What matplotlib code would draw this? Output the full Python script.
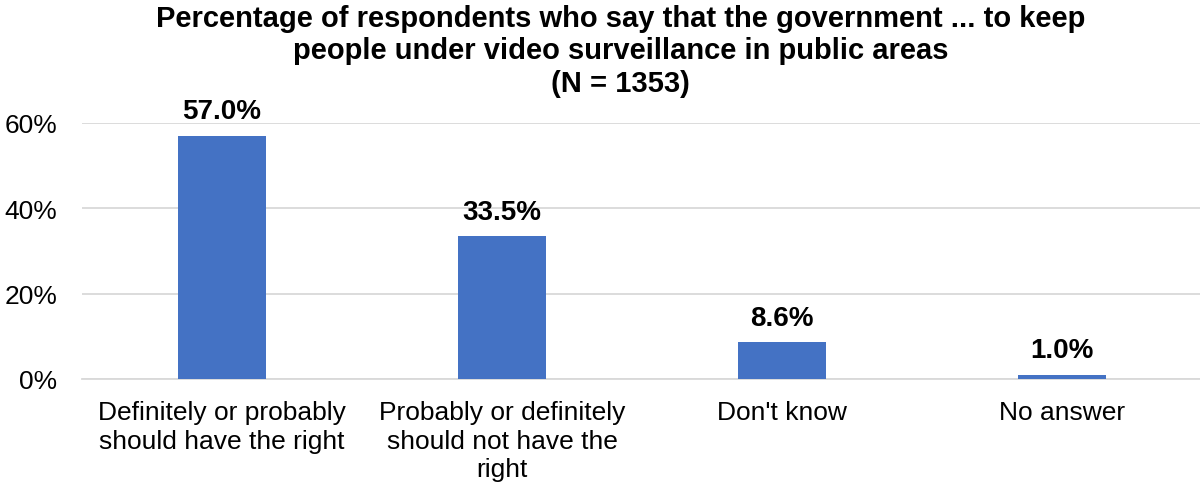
import matplotlib
matplotlib.use("Agg")
import matplotlib.pyplot as plt
import matplotlib.ticker as mticker
import numpy as np

plt.rcParams["font.family"] = ["Liberation Sans", "DejaVu Sans"]

categories = [
    "Definitely or probably\nshould have the right",
    "Probably or definitely\nshould not have the\nright",
    "Don't know",
    "No answer",
]
shares = [57.0, 33.5, 8.6, 1.0]
y_ticks = [0, 20, 40, 60]

fig = plt.figure(figsize=(12, 4.89), dpi=100)
ax = fig.add_axes([82 / 1200, 109 / 489, 1120 / 1200, 256 / 489])

x = np.arange(len(categories))
bars = ax.bar(x, shares, width=0.315, color="#4472C4", zorder=3)
for bar, val in zip(bars, shares):
    ax.text(bar.get_x() + bar.get_width() / 2, val + 2.7, f"{val:.1f}%",
            ha="center", va="bottom", fontsize=20, fontweight="bold")

ax.set_xlim(-0.5, 3.5)
ax.set_ylim(0, 60)
ax.set_yticks(y_ticks)
ax.yaxis.set_major_formatter(mticker.FuncFormatter(lambda v, _: f"{v:.0f}%"))
ax.set_xticks(x)
ax.set_xticklabels(categories, fontsize=19, linespacing=1.25)
ax.tick_params(axis="y", labelsize=19, length=0, pad=18)
ax.tick_params(axis="x", length=0, pad=15)
ax.grid(axis="y", color="#d9d9d9", linewidth=1.3, zorder=0)
for side in ["top", "right", "left"]:
    ax.spines[side].set_visible(False)
ax.spines["bottom"].set_color("#d9d9d9")
ax.spines["bottom"].set_linewidth(1.3)

fig.text(0.517, 0.99,
         "Percentage of respondents who say that the government ... to keep\n"
         "people under video surveillance in public areas\n(N = 1353)",
         ha="center", va="top", fontsize=21, fontweight="bold", linespacing=1.2)

plt.savefig("out.png", dpi=100)
plt.close(fig)
